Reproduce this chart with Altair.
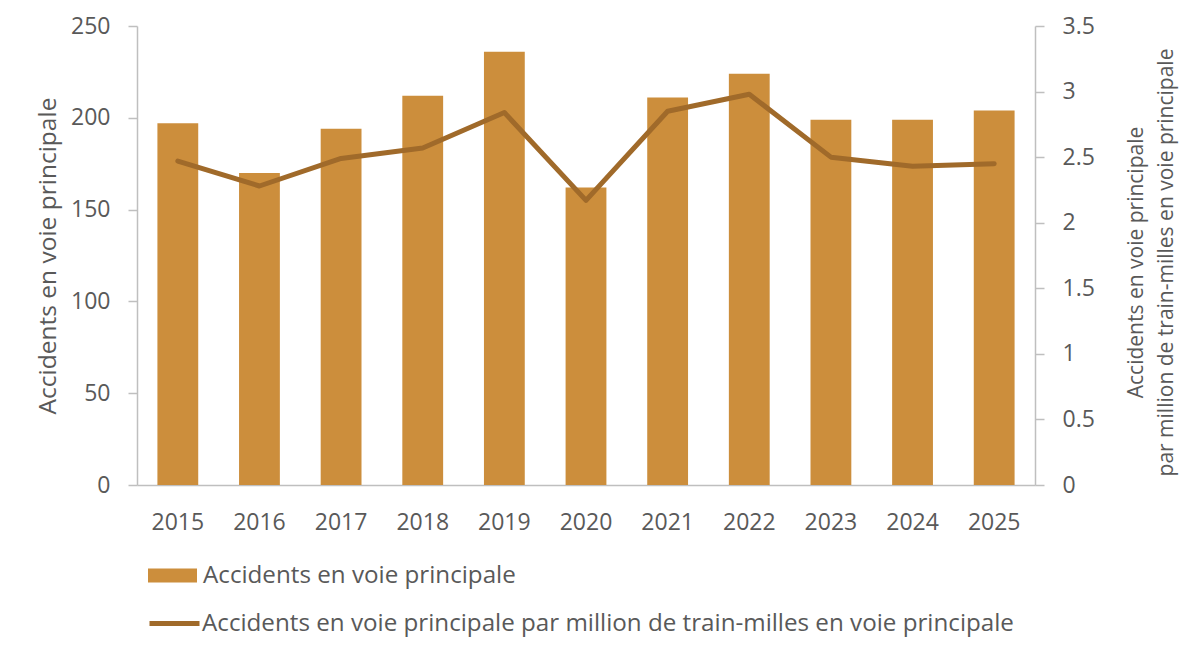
import altair as alt
import pandas as pd

# Yearly main-track accident figures
years = ["2015", "2016", "2017", "2018", "2019", "2020", "2021", "2022", "2023", "2024", "2025"]
accidents = [197, 170, 194, 212, 236, 162, 211, 224, 199, 199, 204]
rate_per_million = [2.47, 2.28, 2.49, 2.57, 2.84, 2.17, 2.85, 2.98, 2.50, 2.43, 2.45]

bar_label = "Accidents en voie principale"
line_label = "Accidents en voie principale par million de train-milles en voie principale"

df = pd.DataFrame({
    "year": years,
    "accidents": accidents,
    "rate": rate_per_million,
    "bar_series": bar_label,
    "line_series": line_label,
})

FONT = "Open Sans"
TEXT = "#595959"
AXIS = "#BFBFBF"
BAR_COLOR = "#CC8E3C"
LINE_COLOR = "#A06A2A"

x_enc = alt.X(
    "year:O",
    title=None,
    scale=alt.Scale(paddingInner=0.5, paddingOuter=0.25),
    axis=alt.Axis(labelAngle=0, ticks=False, labelPadding=26, domainColor=AXIS,
                  domainWidth=1.5),
)

bars = alt.Chart(df).mark_bar(color=BAR_COLOR).encode(
    x=x_enc,
    y=alt.Y(
        "accidents:Q",
        title=bar_label,
        scale=alt.Scale(domain=[0, 250], nice=False),
        axis=alt.Axis(values=[0, 50, 100, 150, 200, 250], tickSize=9, labelPadding=18,
                      titlePadding=10, domainColor=AXIS, tickColor=AXIS,
                      domainWidth=1.5, tickWidth=1.5),
    ),
    color=alt.Color(
        "bar_series:N",
        scale=alt.Scale(range=[BAR_COLOR]),
        legend=alt.Legend(
            title=None, orient="none", legendX=11, legendY=525,
            symbolType="M-1,-0.29H1V0.29H-1Z", symbolSize=2401,
            symbolStrokeWidth=0, symbolOpacity=1, labelOffset=6, padding=0,
        ),
    ),
)

line = alt.Chart(df).mark_line(strokeWidth=5, strokeJoin="round", strokeCap="round").encode(
    x=x_enc,
    y=alt.Y(
        "rate:Q",
        title=["Accidents en voie principale", "par million de train-milles en voie principale"],
        scale=alt.Scale(domain=[0, 3.5], nice=False),
        axis=alt.Axis(orient="right", values=[0, 0.5, 1, 1.5, 2, 2.5, 3, 3.5], format="~g",
                      tickSize=9, labelPadding=18, titlePadding=22, titleAngle=270,
                      titleFontSize=21, titleY=236,
                      domainColor=AXIS, tickColor=AXIS, domainWidth=1.5, tickWidth=1.5,
                      titleLineHeight=30),
    ),
    stroke=alt.Stroke(
        "line_series:N",
        scale=alt.Scale(range=[LINE_COLOR]),
        legend=alt.Legend(
            title=None, orient="none", legendX=10, legendY=570,
            symbolType="stroke", symbolSize=2500, symbolStrokeWidth=5,
            labelOffset=0, padding=0,
        ),
    ),
)

chart = (
    alt.layer(bars, line)
    .resolve_scale(y="independent", color="independent", stroke="independent")
    .properties(
        width=898,
        height=459,
        autosize=alt.AutoSizeParams(type="none"),
        padding={"left": 137, "top": 26, "right": 165, "bottom": 173},
    )
    .configure_view(stroke=None)
    .configure_axis(
        grid=False,
        labelFont=FONT,
        labelFontSize=23,
        labelColor=TEXT,
        titleFont=FONT,
        titleFontSize=24.5,
        titleFontWeight="normal",
        titleColor=TEXT,
    )
    .configure_legend(
        labelFont=FONT,
        labelFontSize=24.2,
        labelColor=TEXT,
        labelLimit=1000,
    )
)

chart.save("out.html", embed_options={"renderer": "svg", "actions": False})
